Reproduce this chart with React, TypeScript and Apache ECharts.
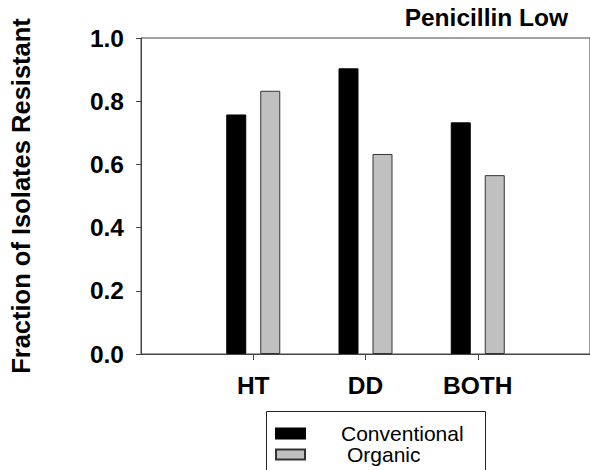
import React, { useEffect, useRef } from "react";
import * as echarts from "echarts";

const categories = ["HT", "DD", "BOTH"];
const conventional = [0.758, 0.904, 0.733];
const organic = [0.833, 0.633, 0.566];
const yTicks = [0, 0.2, 0.4, 0.6, 0.8, 1.0];
const seriesNames = ["Conventional", "Organic"];
const titleText = "Penicillin Low";
const yAxisTitle = "Fraction of Isolates Resistant";

const FONT = "'Liberation Sans', Arial, Helvetica, sans-serif";

export default function App() {
  const ref = useRef<HTMLDivElement>(null);
  useEffect(() => {
    if (!ref.current) return;
    const chart = echarts.init(ref.current, undefined, { renderer: "svg" });
    const positions = categories.map((_, i) => i + 1);
    const option: any = {
      animation: false,
      backgroundColor: "#fff",
      title: {
        text: titleText,
        right: 22,
        top: 5,
        padding: 0,
        textStyle: { fontFamily: FONT, fontWeight: "bold", fontSize: 24.5, color: "#000" },
      },
      grid: {
        left: 139,
        top: 38,
        bottom: 116,
        width: 452,
        show: true,
        borderColor: "#444",
        borderWidth: 1,
        backgroundColor: "transparent",
      },
      legend: {
        orient: "vertical",
        left: 275,
        top: 423,
        padding: 0,
        itemWidth: 29,
        itemHeight: 10,
        itemGap: 0,
        icon: "rect",
        data: seriesNames,
        formatter: (name: string) => (name === seriesNames[0] ? `{a|${name}}` : `{b|${name}}`),
        textStyle: {
          fontFamily: FONT,
          fontSize: 21,
          color: "#000",
          lineHeight: 19,
          rich: {
            a: { fontFamily: FONT, fontSize: 21, color: "#000", lineHeight: 19, padding: [0, 0, 0, 31] },
            b: { fontFamily: FONT, fontSize: 21, color: "#000", lineHeight: 19, padding: [0, 0, 0, 37] },
          },
        },
      },
      graphic: [
        {
          type: "rect",
          shape: { x: 266.5, y: 411.5, width: 219, height: 90 },
          style: { fill: "transparent", stroke: "#222", lineWidth: 1 },
          silent: true,
        },
      ],
      xAxis: {
        type: "value",
        min: 0,
        max: 4,
        interval: 1,
        splitLine: { show: false },
        axisLine: { show: true, lineStyle: { color: "#444", width: 1 } },
        axisTick: { show: true, length: 6, customValues: positions, lineStyle: { color: "#444" } },
        axisLabel: {
          customValues: positions,
          margin: 19,
          formatter: (v: number) => categories[Math.round(v) - 1] ?? "",
          fontFamily: FONT,
          fontWeight: "bold",
          fontSize: 24.5,
          color: "#000",
        },
      },
      yAxis: {
        type: "value",
        min: 0,
        max: 1,
        interval: 0.2,
        splitLine: { show: false },
        axisLine: { show: true, lineStyle: { color: "#444", width: 1 } },
        axisTick: { show: true, length: 5, lineStyle: { color: "#444" } },
        axisLabel: {
          customValues: yTicks,
          margin: 17,
          formatter: (v: number) => v.toFixed(1),
          fontFamily: FONT,
          fontWeight: "bold",
          fontSize: 24.5,
          color: "#000",
        },
        name: yAxisTitle,
        nameLocation: "middle",
        nameGap: 107,
        nameTextStyle: { fontFamily: FONT, fontWeight: "bold", fontSize: 25.5, color: "#000" },
      },
      series: [
        {
          name: seriesNames[0],
          type: "bar",
          barWidth: 20,
          barGap: "70%",
          data: conventional.map((v, i) => [positions[i], v]),
          itemStyle: { color: "#000", borderColor: "#000", borderWidth: 1 },
        },
        {
          name: seriesNames[1],
          type: "bar",
          barWidth: 20,
          barGap: "70%",
          data: organic.map((v, i) => [positions[i], v]),
          itemStyle: { color: "#c0c0c0", borderColor: "#333", borderWidth: 1 },
        },
      ],
    };
    chart.setOption(option);
    return () => chart.dispose();
  }, []);
  return <div ref={ref} style={{ width: 590, height: 470, position: "absolute", left: 0, top: 0 }} />;
}
